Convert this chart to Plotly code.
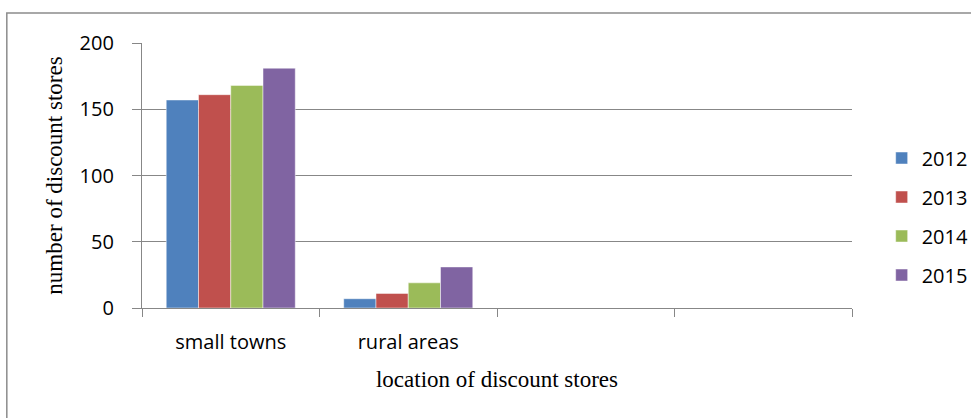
import plotly.graph_objects as go

categories = ["small towns", "rural areas", " ", "  "]
years = ["2012", "2013", "2014", "2015"]
values_2012 = [157, 7, None, None]
values_2013 = [161, 11, None, None]
values_2014 = [168, 19, None, None]
values_2015 = [181, 31, None, None]
colors = ["#4F81BD", "#C0504D", "#9BBB59", "#8064A2"]
y_ticks = [0, 50, 100, 150, 200]

series = [values_2012, values_2013, values_2014, values_2015]

fig = go.Figure()
for name, vals, col in zip(years, series, colors):
    fig.add_trace(go.Bar(
        x=categories, y=vals, name=name, legendgroup=name,
        marker=dict(color=col, line=dict(color="rgba(255,255,255,0.6)", width=0.8)),
    ))

tick_font = dict(family="Open Sans", size=20, color="#000000")
title_font = dict(family="Liberation Serif", size=23, color="#000000")
grey = "#878787"

fig.update_layout(
    width=971, height=418,
    margin=dict(l=142, r=119, t=43, b=110, autoexpand=False),
    paper_bgcolor="white", plot_bgcolor="white",
    barmode="group", bargap=0.273, bargroupgap=0,
    showlegend=True,
    legend=dict(
        xref="container", yref="container",
        x=0.908, xanchor="left", y=0.482, yanchor="middle",
        font=tick_font, traceorder="grouped", tracegroupgap=10,
        bgcolor="rgba(0,0,0,0)", borderwidth=0,
    ),
    xaxis=dict(
        type="category", categoryorder="array", categoryarray=categories,
        showgrid=False, showline=True, linecolor=grey, linewidth=1.3,
        ticks="outside", tickson="boundaries", ticklen=8, tickcolor=grey, tickwidth=1.3,
        tickfont=tick_font, ticklabelstandoff=16,
        title=dict(text="location of discount stores", font=title_font, standoff=16),
        automargin=False, fixedrange=True,
    ),
    yaxis=dict(
        range=[0, 200], tickvals=y_ticks, ticktext=[str(v) for v in y_ticks],
        showgrid=True, gridcolor=grey, gridwidth=1.3,
        showline=True, linecolor=grey, linewidth=1.3, zeroline=False,
        ticks="outside", ticklen=9, tickcolor=grey, tickwidth=1.3,
        tickfont=tick_font, ticklabelstandoff=14,
        title=dict(text="number of discount stores", font=title_font, standoff=10),
        automargin=False, fixedrange=True,
    ),
    shapes=[dict(
        type="rect", xref="paper", yref="paper",
        x0=-0.1904, x1=1.25, y0=-0.5, y1=1.113,
        line=dict(color="#8c8c8c", width=1.5), fillcolor="rgba(0,0,0,0)", layer="below",
    )],
)

fig.write_html("out.html")
